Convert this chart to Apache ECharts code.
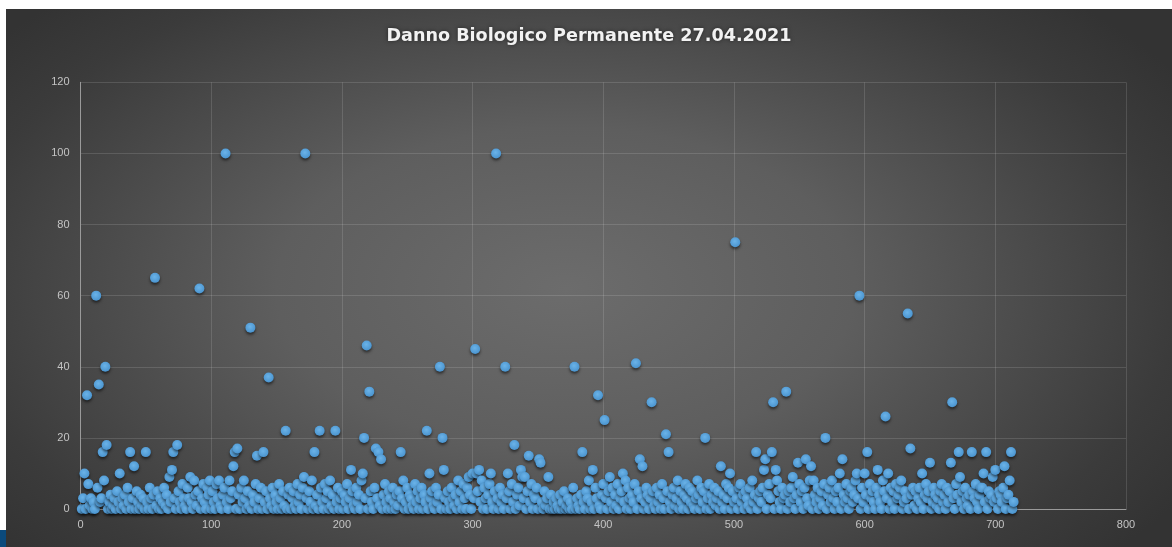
<!DOCTYPE html>
<html>
<head>
<meta charset="utf-8">
<script src="https://cdn.jsdelivr.net/npm/echarts@6/dist/echarts.min.js"></script>
<style>
  body { margin: 0; padding: 0; background: #fff; }
  #wrap {
    position: absolute; left: 6px; top: 9px; width: 1166px; height: 538px;
    background: radial-gradient(ellipse 62% 75% at 48% 52%, #6c6c6c 0%, #5e5e5e 40%, #3b3b3b 85%, #333 100%);
  }
  #main { width: 1166px; height: 538px; }
  #tab { position: absolute; left: 0; top: 530px; width: 6px; height: 17px; background: #0b4a7c; }
</style>
</head>
<body>
<div id="wrap"><div id="main"></div></div>
<div id="tab"></div>
<script>
  // assi
  const xTicks = [0, 100, 200, 300, 400, 500, 600, 700, 800];
  const yTicks = [0, 20, 40, 60, 80, 100, 120];

  // percentuale danno per pratica, in ordine (pratica 1..714)
  const danno = [
    0,3,10,0,32,7,1,3,0,2,0,60,6,35,2,3,16,8,40,18,
    0,2,4,0,1,3,0,5,2,10,0,3,1,4,0,6,2,16,0,3,
    12,0,5,2,0,4,1,3,0,16,2,0,6,3,0,4,65,1,5,0,
    3,0,2,6,1,4,0,9,2,11,16,3,0,18,5,2,0,7,3,1,
    0,6,3,9,2,0,8,4,1,5,62,0,3,7,2,0,6,4,8,0,
    5,2,0,7,3,8,1,0,4,6,100,2,0,8,3,5,12,16,0,17,
    4,0,6,2,8,3,0,5,1,51,0,4,2,7,15,0,3,6,0,16,
    2,5,0,37,3,1,6,0,4,2,0,7,3,0,5,1,22,0,4,6,
    0,3,5,1,0,7,2,4,0,6,9,100,3,0,5,2,8,0,16,1,
    4,0,22,6,2,0,7,3,5,0,8,1,4,0,22,2,6,0,3,5,
    0,4,2,7,0,3,11,5,1,0,6,2,4,0,8,10,20,3,46,0,
    33,5,2,0,6,17,3,16,1,14,0,4,7,2,0,5,3,0,6,2,
    0,4,1,5,16,3,8,0,2,6,0,4,3,1,0,7,2,5,0,3,
    6,0,4,2,22,0,10,3,5,1,0,6,2,4,40,0,20,11,3,0,
    5,2,0,6,3,1,4,0,8,2,5,0,7,3,0,6,9,4,0,10,
    3,45,10,5,11,2,8,0,6,3,0,4,7,10,2,0,5,100,3,0,
    6,2,4,0,40,3,10,5,0,7,2,18,0,4,6,1,11,9,3,9,
    0,5,15,2,7,0,4,3,6,0,14,13,2,0,5,1,3,9,0,4,
    0,2,0,3,1,0,4,0,2,5,0,1,3,0,2,0,6,40,0,3,
    1,0,4,16,2,0,5,3,8,0,2,11,0,6,3,32,1,0,4,7,
    25,3,0,5,9,2,6,0,4,1,7,0,3,5,10,2,8,0,6,3,
    0,4,2,7,41,0,5,14,3,12,0,2,6,4,0,3,30,5,1,0,
    6,2,4,0,7,3,0,21,5,16,2,0,4,6,1,3,8,0,5,2,
    0,4,7,3,0,6,2,5,1,0,3,8,4,0,6,2,5,20,0,3,
    7,0,4,2,6,1,3,5,0,12,2,4,0,7,3,6,10,0,5,2,
    75,3,0,6,7,2,4,0,5,3,1,6,0,8,2,4,16,0,3,5,
    2,6,11,14,0,4,7,3,16,30,0,11,8,5,2,0,6,3,4,33,
    0,5,2,6,9,3,0,4,13,7,2,5,0,6,14,3,1,8,12,0,
    8,4,2,6,0,3,5,1,7,20,0,4,6,2,8,3,0,5,2,6,
    10,0,14,4,2,7,3,0,5,6,2,4,8,10,3,60,0,6,2,10,
    4,16,0,7,3,5,2,0,6,11,4,2,0,8,5,26,3,10,0,6,
    2,5,0,7,3,4,6,8,0,2,5,3,55,0,17,4,6,1,5,0,
    3,6,2,10,0,4,7,3,5,13,0,2,6,4,1,3,0,5,7,2,
    4,0,6,2,5,13,30,3,0,7,4,16,9,2,5,0,6,3,1,4,
    0,16,5,3,7,2,0,4,6,6,10,2,16,0,5,3,4,9,2,11,
    3,0,5,4,2,6,12,0,3,4,8,16,0,2
  ];

  const punti = danno.map((v, i) => [i + 1, v]);

  const chart = echarts.init(document.getElementById('main'));
  const labelStyle = { color: '#c4c4c4', fontSize: 11, fontFamily: 'Liberation Sans, sans-serif' };
  const gridLine = { lineStyle: { color: 'rgba(255,255,255,0.13)', width: 1 } };

  chart.setOption({
    backgroundColor: 'transparent',
    animation: false,
    title: {
      text: 'Danno Biologico Permanente 27.04.2021',
      left: 'center',
      top: 13,
      textStyle: {
        color: '#f2f2f2', fontSize: 17.6, fontWeight: 'bold',
        fontFamily: 'DejaVu Sans, sans-serif',
        textShadowColor: 'rgba(0,0,0,0.5)', textShadowBlur: 4
      }
    },
    grid: { left: 74.5, right: 46, top: 73.3, bottom: 38 },
    xAxis: {
      type: 'value',
      min: xTicks[0], max: xTicks[xTicks.length - 1], interval: 100,
      axisLine: { show: true, onZero: false, lineStyle: { color: '#9a9a9a' } },
      axisTick: { show: false },
      axisLabel: Object.assign({ margin: 10 }, labelStyle),
      splitLine: gridLine
    },
    yAxis: {
      type: 'value',
      min: yTicks[0], max: yTicks[yTicks.length - 1], interval: 20,
      axisLine: { show: true, lineStyle: { color: '#9a9a9a' } },
      axisTick: { show: false },
      axisLabel: Object.assign({ margin: 11 }, labelStyle),
      splitLine: gridLine
    },
    series: [{
      type: 'scatter',
      data: punti,
      symbolSize: 10,
      itemStyle: {
        color: new echarts.graphic.RadialGradient(0.45, 0.4, 0.6, [
          { offset: 0, color: '#6bb3e8' },
          { offset: 1, color: '#4a94cf' }
        ]),
        opacity: 1,
        shadowColor: 'rgba(0,0,0,0.55)', shadowBlur: 3, shadowOffsetY: 2
      }
    }]
  });
</script>
</body>
</html>
